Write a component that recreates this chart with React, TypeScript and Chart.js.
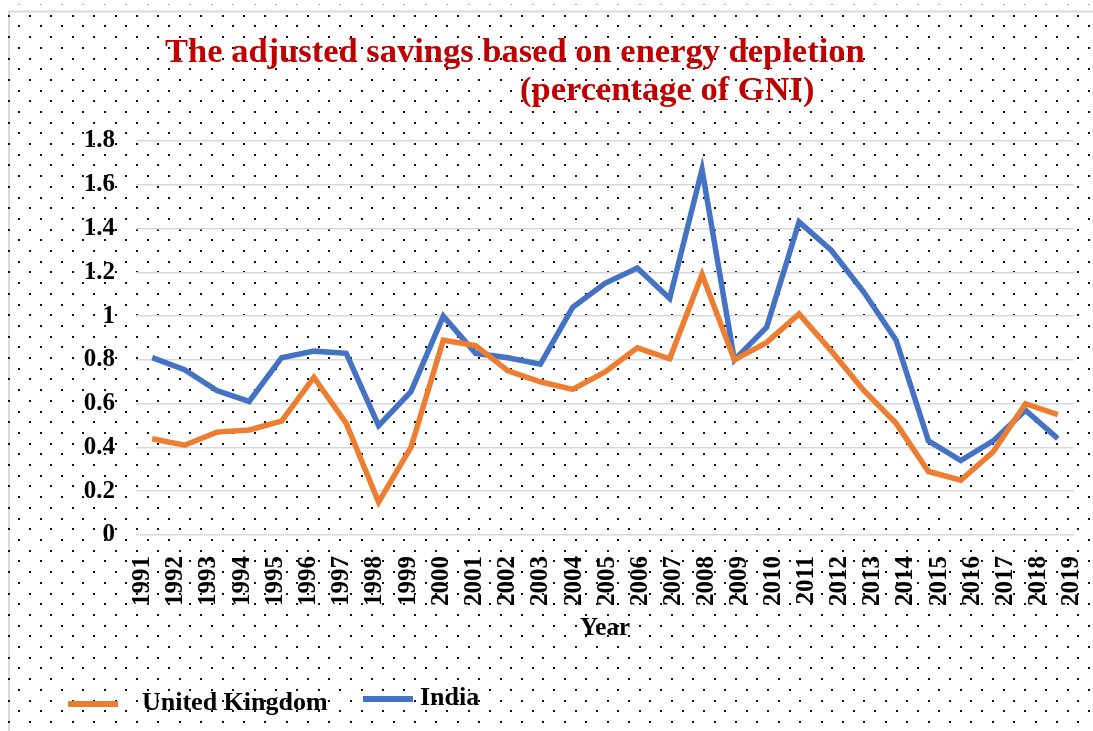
import React, { useEffect, useRef } from 'react';
import { Chart, registerables } from 'chart.js';

Chart.register(...registerables);

const years = [1991, 1992, 1993, 1994, 1995, 1996, 1997, 1998, 1999, 2000, 2001, 2002, 2003, 2004, 2005, 2006, 2007, 2008, 2009, 2010, 2011, 2012, 2013, 2014, 2015, 2016, 2017, 2018, 2019];
const yearLabels = years.map(String);
const ukValues = [0.44, 0.41, 0.47, 0.48, 0.52, 0.72, 0.51, 0.15, 0.40, 0.89, 0.865, 0.75, 0.70, 0.665, 0.745, 0.855, 0.805, 1.19, 0.80, 0.88, 1.01, 0.84, 0.66, 0.51, 0.29, 0.25, 0.38, 0.60, 0.55];
const indiaValues = [0.81, 0.755, 0.66, 0.61, 0.81, 0.84, 0.83, 0.50, 0.655, 1.0, 0.83, 0.81, 0.78, 1.04, 1.15, 1.22, 1.08, 1.67, 0.80, 0.95, 1.43, 1.30, 1.11, 0.89, 0.43, 0.34, 0.43, 0.57, 0.44];
const yTickValues = [0, 0.2, 0.4, 0.6, 0.8, 1.0, 1.2, 1.4, 1.6, 1.8];
const yTickLabels = ['0', '0.2', '0.4', '0.6', '0.8', '1', '1.2', '1.4', '1.6', '1.8'];
const titleLines = ['The adjusted savings based on energy depletion', '(percentage of GNI)'];
const xAxisTitle = 'Year';
const seriesNames = ['United Kingdom', 'India'];
const seriesColors = ['#ED7D31', '#4472C4'];

const SERIF = '"Liberation Serif", "DejaVu Serif", serif';

export default function App() {
  const ref = useRef<HTMLCanvasElement | null>(null);

  useEffect(() => {
    document.body.style.margin = '0';
    const canvas = ref.current;
    if (!canvas) return;

    const backgroundPlugin = {
      id: 'dottedBackground',
      beforeDraw(chart: any) {
        const ctx = chart.ctx as CanvasRenderingContext2D;
        const W = chart.width;
        const H = chart.height;
        ctx.save();
        ctx.fillStyle = '#ffffff';
        ctx.fillRect(0, 0, W, H);
        ctx.strokeStyle = '#d9d9d9';
        ctx.lineWidth = 2;
        ctx.beginPath();
        ctx.moveTo(9, H);
        ctx.lineTo(9, 11.5);
        ctx.lineTo(W, 11.5);
        ctx.stroke();
        const px = 21.4;
        const py = 10.7;
        for (let r = -1; ; r++) {
          const y = 15.7 + r * py;
          if (y > H + 2) break;
          const odd = Math.abs(r) % 2 === 1;
          ctx.fillStyle = r < 0 ? '#aaaaaa' : '#111111';
          for (let x = 8.5 + (odd ? py : 0); x < W + 2; x += px) {
            ctx.fillRect(Math.round(x) - 1, Math.round(y) - 1, 2, r < 0 ? 1 : 2);
          }
        }
        ctx.restore();
      },
      afterDraw(chart: any) {
        const ctx = chart.ctx as CanvasRenderingContext2D;
        ctx.save();
        ctx.textBaseline = 'alphabetic';
        ctx.textAlign = 'left';
        ctx.fillStyle = '#C00000';
        ctx.font = `bold 34.5px ${SERIF}`;
        ctx.fillText(titleLines[0], 165, 62);
        ctx.fillText(titleLines[1], 520, 100);

        const ds = chart.data.datasets;
        const legendItems = [
          { x0: 68, x1: 118, ly: 704, tx: 142, ty: 710 },
          { x0: 363, x1: 413, ly: 699, tx: 420, ty: 705 },
        ];
        ctx.font = `bold 26px ${SERIF}`;
        legendItems.forEach((it, i) => {
          ctx.strokeStyle = ds[i].borderColor;
          ctx.lineWidth = 6;
          ctx.beginPath();
          ctx.moveTo(it.x0, it.ly);
          ctx.lineTo(it.x1, it.ly);
          ctx.stroke();
          ctx.fillStyle = '#000000';
          ctx.fillText(ds[i].label, it.tx, it.ty);
        });
        ctx.restore();
      },
    };

    const chart = new Chart(canvas, {
      type: 'line',
      data: {
        labels: yearLabels,
        datasets: [
          {
            label: seriesNames[0],
            data: ukValues,
            borderColor: seriesColors[0],
            backgroundColor: seriesColors[0],
            borderWidth: 5.5,
            pointRadius: 0,
            tension: 0,
            fill: false,
            xAxisID: 'x',
            yAxisID: 'y',
          },
          {
            label: seriesNames[1],
            data: indiaValues,
            borderColor: seriesColors[1],
            backgroundColor: seriesColors[1],
            borderWidth: 5.5,
            pointRadius: 0,
            tension: 0,
            fill: false,
            xAxisID: 'x',
            yAxisID: 'y',
          },
        ],
      },
      options: {
        responsive: false,
        animation: false,
        devicePixelRatio: 1,
        layout: { padding: { top: 141, right: 19, bottom: 87, left: 0 } },
        plugins: {
          legend: { display: false },
          tooltip: { enabled: false },
          title: { display: false },
        },
        scales: {
          x: {
            type: 'category',
            display: false,
            offset: true,
          },
          x2: {
            type: 'linear',
            position: 'bottom',
            min: 1990.804,
            max: 2019.06,
            afterBuildTicks: (s: any) => {
              s.ticks = years.map((v) => ({ value: v }));
            },
            grid: { display: false, drawTicks: false },
            border: { display: false },
            ticks: {
              autoSkip: false,
              minRotation: 90,
              maxRotation: 90,
              padding: 21,
              color: '#000000',
              font: { family: SERIF, size: 25, weight: 'bold' },
              callback: (v: any) => String(v),
            },
            title: {
              display: true,
              text: xAxisTitle,
              color: '#000000',
              font: { family: SERIF, size: 25, weight: 'bold' },
              padding: 0,
            },
            afterFit: (s: any) => {
              s.height = 109;
              s.paddingLeft = 0;
              s.paddingRight = 0;
            },
          },
          y: {
            type: 'linear',
            min: 0,
            max: 1.8,
            afterBuildTicks: (s: any) => {
              s.ticks = yTickValues.map((v) => ({ value: v }));
            },
            grid: { color: '#d9d9d9', lineWidth: 1.5, drawTicks: false },
            border: { display: false },
            ticks: {
              padding: 21,
              color: '#000000',
              font: { family: SERIF, size: 25, weight: 'bold' },
              callback: (_v: any, i: number) => yTickLabels[i],
            },
            afterFit: (s: any) => {
              s.width = 136;
              s.paddingTop = 0;
              s.paddingBottom = 0;
            },
          },
        },
      },
      plugins: [backgroundPlugin],
    } as any);

    return () => {
      chart.destroy();
    };
  }, []);

  return (
    <div style={{ width: 1093, height: 731 }}>
      <canvas ref={ref} width={1093} height={731} style={{ display: 'block' }} />
    </div>
  );
}
